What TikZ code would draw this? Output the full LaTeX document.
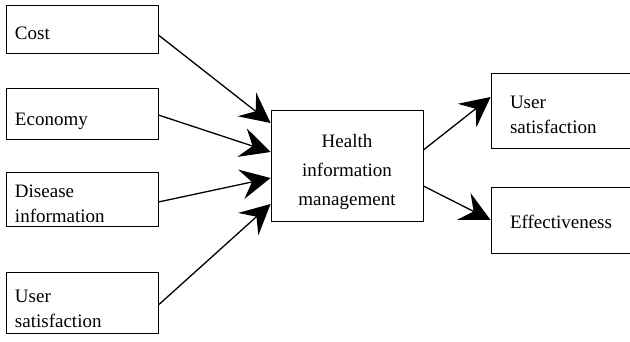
\documentclass[tikz,border=0pt]{standalone}
\usepackage{fontspec}
\setmainfont{Liberation Serif}
\usetikzlibrary{arrows.meta}
\newcommand{\tstrut}[1]{\rule{0pt}{#1pt}}
\tikzset{
  box/.style={draw=black, line width=0.8pt, rectangle, inner ysep=0pt, font=\fontsize{19}{25}\selectfont},
  leftbox/.style={box, inner xsep=9pt, text width=134pt, align=left, minimum width=152pt},
  rightbox/.style={box, inner xsep=19pt, text width=116pt, align=left, minimum width=154pt},
  midbox/.style={box, inner xsep=6pt, text width=140pt, align=center, minimum width=152pt, font=\fontsize{19}{29}\selectfont},
  arr/.style={line width=1.3pt, -{Stealth[length=30pt,width=30pt,inset=11pt]}}
}
\begin{document}
\begin{tikzpicture}[x=1pt,y=-1pt]
\useasboundingbox (0,0) rectangle (630,342);
\clip (0,0) rectangle (630,342);
\node[leftbox, minimum height=48pt] (cost) at (82,29) {\tstrut{21}Cost};
\node[leftbox, minimum height=51pt] (econ) at (82,113.5) {\tstrut{29}Economy};
\node[leftbox, minimum height=54pt] (dis) at (82,199) {\tstrut{23}Disease\\information};
\node[leftbox, minimum height=61pt] (usr) at (82,302.5) {\tstrut{25}User\\satisfaction};
\node[midbox, minimum height=111pt] (him) at (347,165.5) {\tstrut{27}Health\\information\\management};
\node[rightbox, minimum height=75pt] (us2) at (568,110.5) {\tstrut{21}User\\satisfaction};
\node[rightbox, minimum height=66pt] (eff) at (568,220) {\tstrut{17}Effectiveness};
\draw[arr] ([yshift=-6pt]cost.east) -- ([yshift=42.5pt]him.west);
\draw[arr] ([yshift=-1.5pt]econ.east) -- ([yshift=13.5pt]him.west);
\draw[arr] ([yshift=-3pt]dis.east) -- ([yshift=-12.5pt]him.west);
\draw[arr] ([yshift=-2.5pt]usr.east) -- ([yshift=-38.5pt]him.west);
\draw[arr] ([yshift=15.5pt]him.east) -- ([yshift=13.5pt]us2.west);
\draw[arr] ([yshift=-20.5pt]him.east) -- (eff.west);
\end{tikzpicture}
\end{document}
